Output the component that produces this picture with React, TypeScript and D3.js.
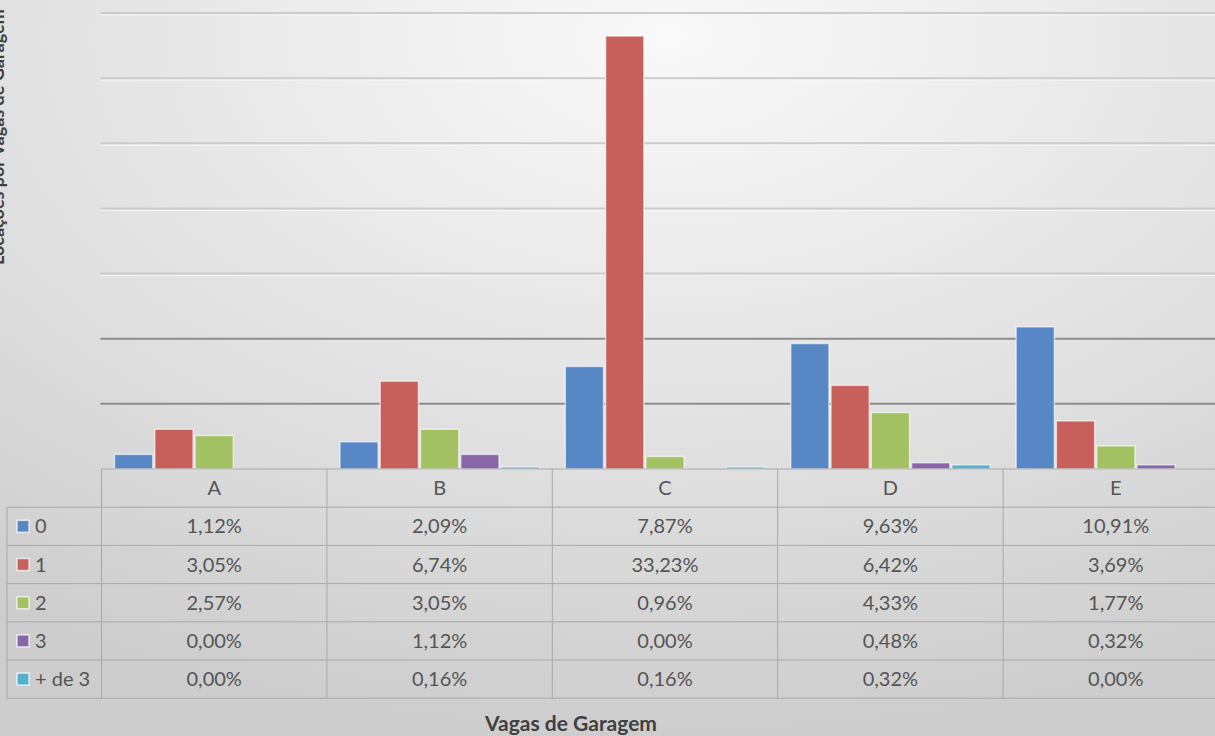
import React from "react";
import * as d3 from "d3";

// categories and series
const categories = ["A", "B", "C", "D", "E"];
const seriesNames = ["0", "1", "2", "3", "+ de 3"];
const s0 = [1.12, 2.09, 7.87, 9.63, 10.91];
const s1 = [3.05, 6.74, 33.23, 6.42, 3.69];
const s2 = [2.57, 3.05, 0.96, 4.33, 1.77];
const s3 = [0.0, 1.12, 0.0, 0.48, 0.32];
const s4 = [0.0, 0.16, 0.16, 0.32, 0.0];
const yTicks = [5, 10, 15, 20, 25, 30, 35];

const seriesValues = [s0, s1, s2, s3, s4];
const colors = ["#5787c5", "#c75f5b", "#a2c163", "#8767a9", "#52b2cb"];

const fmt = (v: number) => v.toFixed(2).replace(".", ",") + "%";

const App = () => {
  const width = 1215, height = 736;
  const left = 101.5, right = 1228.5;
  const top = 13, base = 469;
  const rowH = 38.2;
  const legendX = 7;
  const font = "Lato, 'Open Sans', sans-serif";

  const x = d3.scaleBand().domain(categories).range([left, right]).paddingInner(0).paddingOuter(0);
  const bw = x.bandwidth();
  const x1 = d3.scaleBand().domain(seriesNames).range([13, bw - 13]).paddingInner(0.05);
  const y = d3.scaleLinear().domain([0, 35]).range([base, top]);

  const headerBottom = base + rowH;
  const tableBottom = headerBottom + rowH * seriesNames.length;

  return (
    <div style={{ position: "absolute", left: 0, top: 0 }}>
      <svg width={width} height={height} style={{ display: "block" }}>
        <defs>
          <radialGradient id="bg" cx="0.55" cy="0.05" r="0.95" fx="0.55" fy="0.05">
            <stop offset="0" stopColor="#f9f9f9" />
            <stop offset="0.6" stopColor="#e0e0e0" />
            <stop offset="1" stopColor="#cdcdcd" />
          </radialGradient>
        </defs>
        <rect x={0} y={0} width={width} height={height} fill="url(#bg)" />

        {/* gridlines */}
        {yTicks.map(t => (
          <g key={t}>
            <line x1={left - 1} x2={right} y1={y(t)} y2={y(t)}
              stroke={t <= 10 ? "#8d8d8d" : "#cbcbcb"} strokeWidth={2} />
            {t > 10 ? <line x1={left - 1} x2={right} y1={y(t) + 2} y2={y(t) + 2} stroke="#f6f6f6" strokeWidth={1} /> : null}
          </g>
        ))}

        {/* y axis title, partly cut off at the left edge as in the original */}
        <text transform={`translate(4,265) rotate(-90)`} fontFamily={font} fontWeight="bold"
          fontSize={18} fill="#404040" textAnchor="start">Locações por Vagas de Garagem</text>

        {/* bars */}
        {categories.map((c, ci) => (
          <g key={c} transform={`translate(${x(c)},0)`}>
            {seriesNames.map((s, si) => {
              const v = seriesValues[si][ci];
              if (v <= 0) return null;
              return (
                <rect key={s} x={x1(s)} y={y(v)} width={x1.bandwidth()} height={base - y(v)}
                  fill={colors[si]} stroke="#ffffff" strokeOpacity={0.6} strokeWidth={1.5} />
              );
            })}
          </g>
        ))}

        {/* data table */}
        <g stroke="#a8a8a8" strokeWidth={1} fill="none">
          <line x1={left} x2={right} y1={base} y2={base} />
          <line x1={legendX} x2={right} y1={headerBottom} y2={headerBottom} />
          {seriesNames.map((s, i) => (
            <line key={s} x1={legendX} x2={right} y1={headerBottom + rowH * (i + 1)} y2={headerBottom + rowH * (i + 1)} />
          ))}
          <line x1={legendX} x2={legendX} y1={headerBottom} y2={tableBottom} />
          {categories.map(c => (
            <line key={c} x1={x(c)} x2={x(c)} y1={base} y2={tableBottom} />
          ))}
        </g>
        {categories.map(c => (
          <text key={c} x={(x(c) as number) + bw / 2} y={base + rowH / 2 + 7} textAnchor="middle"
            fontFamily={font} fontSize={20} fill="#555555">{c}</text>
        ))}
        {seriesNames.map((s, si) => {
          const cy = headerBottom + rowH * si + rowH / 2;
          return (
            <g key={s}>
              <rect x={legendX + 10} y={cy - 6} width={12} height={12} fill={colors[si]}
                stroke="#ffffff" strokeOpacity={0.7} strokeWidth={1.5} />
              <text x={legendX + 28} y={cy + 7} fontFamily={font} fontSize={20} fill="#555555">{s}</text>
              {categories.map((c, ci) => (
                <text key={c} x={(x(c) as number) + bw / 2} y={cy + 7} textAnchor="middle"
                  fontFamily={font} fontSize={20} fill="#555555">{fmt(seriesValues[si][ci])}</text>
              ))}
            </g>
          );
        })}

        {/* x axis title */}
        <text x={571} y={731} textAnchor="middle" fontFamily={font} fontWeight="bold"
          fontSize={21} fill="#404040">Vagas de Garagem</text>
      </svg>
    </div>
  );
};

export default App;
